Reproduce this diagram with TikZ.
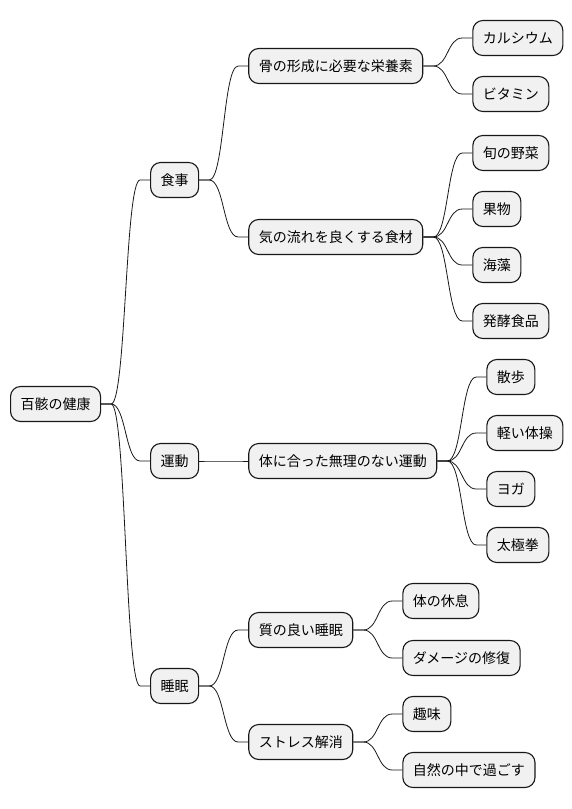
\documentclass[tikz,border=0pt]{standalone}
\usepackage{fontspec}
\setmainfont{Noto Sans CJK JP}
\usetikzlibrary{positioning}
\definecolor{topicfill}{HTML}{F1F1F1}
\definecolor{topicline}{HTML}{181818}

\begin{document}
\begin{tikzpicture}[
  topic/.style={draw=topicline, fill=topicfill, line width=1.1pt, rounded corners=10pt,
    minimum height=35pt, inner xsep=10pt, inner ysep=0pt, font=\fontsize{14}{16}\selectfont},
  branch/.style={draw=topicline, line width=0.8pt,
    to path={-- ++(10pt,0) .. controls +(15pt,0) and +(-15pt,0) .. ([xshift=-10pt]\tikztotarget) -- (\tikztotarget)}}
]
\useasboundingbox (0pt,0pt) rectangle (572pt,-809pt);

% Root %
\node[topic, anchor=west] (root) at (10pt,-404pt) {百骸の健康};

% Level 1 %
\node[topic, right=49pt of root, yshift=224pt] (food) {食事};
\node[topic, right=49pt of root, yshift=-57pt] (exercise) {運動};
\node[topic, right=49pt of root, yshift=-282pt] (sleep) {睡眠};

% Level 2 %
\node[topic, right=49pt of food, yshift=114pt] (bone) {骨の形成に必要な栄養素};
\node[topic, right=49pt of food, yshift=-57pt] (flow) {気の流れを良くする食材};
\node[topic, right=49pt of exercise] (fitex) {体に合った無理のない運動};
\node[topic, right=49pt of sleep, yshift=56pt] (goodsleep) {質の良い睡眠};
\node[topic, right=49pt of sleep, yshift=-56pt] (stress) {ストレス解消};

% Level 3 %
\node[topic, right=49pt of bone, yshift=28pt] (calcium) {カルシウム};
\node[topic, right=49pt of bone, yshift=-28pt] (vitamin) {ビタミン};
\node[topic, right=49pt of flow, yshift=84pt] (veg) {旬の野菜};
\node[topic, right=49pt of flow, yshift=28pt] (fruit) {果物};
\node[topic, right=49pt of flow, yshift=-28pt] (seaweed) {海藻};
\node[topic, right=49pt of flow, yshift=-84pt] (ferment) {発酵食品};
\node[topic, right=49pt of fitex, yshift=84pt] (walk) {散歩};
\node[topic, right=49pt of fitex, yshift=28pt] (gym) {軽い体操};
\node[topic, right=49pt of fitex, yshift=-28pt] (yoga) {ヨガ};
\node[topic, right=49pt of fitex, yshift=-84pt] (taichi) {太極拳};
\node[topic, right=49pt of goodsleep, yshift=29pt] (rest) {体の休息};
\node[topic, right=49pt of goodsleep, yshift=-28pt] (repair) {ダメージの修復};
\node[topic, right=49pt of stress, yshift=28pt] (hobby) {趣味};
\node[topic, right=49pt of stress, yshift=-28pt] (nature) {自然の中で過ごす};

% Edges %
\draw[branch] (root.east) to (food.west);
\draw[branch] (root.east) to (exercise.west);
\draw[branch] (root.east) to (sleep.west);

\draw[branch] (food.east) to (bone.west);
\draw[branch] (food.east) to (flow.west);
\draw[branch] (bone.east) to (calcium.west);
\draw[branch] (bone.east) to (vitamin.west);
\draw[branch] (flow.east) to (veg.west);
\draw[branch] (flow.east) to (fruit.west);
\draw[branch] (flow.east) to (seaweed.west);
\draw[branch] (flow.east) to (ferment.west);

\draw[branch] (exercise.east) to (fitex.west);
\draw[branch] (fitex.east) to (walk.west);
\draw[branch] (fitex.east) to (gym.west);
\draw[branch] (fitex.east) to (yoga.west);
\draw[branch] (fitex.east) to (taichi.west);

\draw[branch] (sleep.east) to (goodsleep.west);
\draw[branch] (sleep.east) to (stress.west);
\draw[branch] (goodsleep.east) to (rest.west);
\draw[branch] (goodsleep.east) to (repair.west);
\draw[branch] (stress.east) to (hobby.west);
\draw[branch] (stress.east) to (nature.west);

\end{tikzpicture}
\end{document}
